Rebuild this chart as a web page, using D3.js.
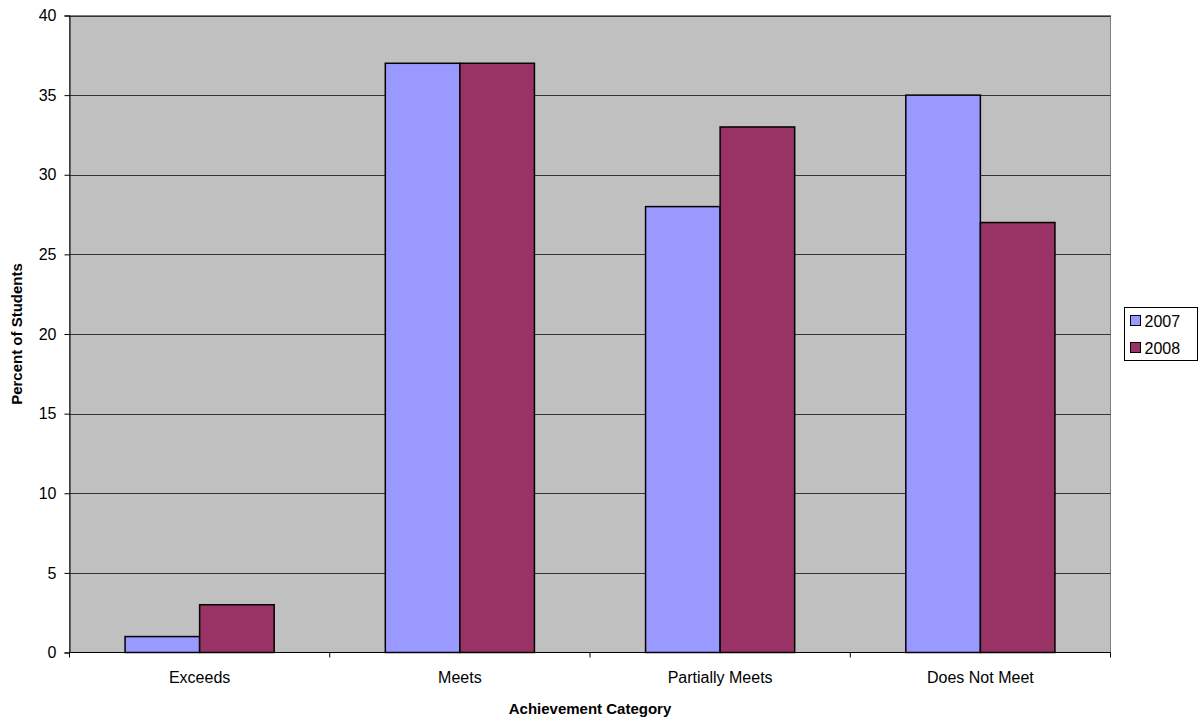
<!DOCTYPE html>
<html><head><meta charset="utf-8">
<script src="https://cdn.jsdelivr.net/npm/d3@7"></script>
<style>body{margin:0;background:#fff;} text{font-family:"Liberation Sans",Arial,sans-serif;}</style>
</head><body>
<svg id="c" width="1202" height="723"></svg>
<script>
const categories = ["Exceeds", "Meets", "Partially Meets", "Does Not Meet"];
const seriesNames = ["2007", "2008"];
const values2007 = [1, 37, 28, 35];
const values2008 = [3, 37, 33, 27];
const yTicks = [0, 5, 10, 15, 20, 25, 30, 35, 40];
const colors = ["#9999FF", "#993366"];

const svg = d3.select("#c");
const L = 69.5, R = 1110.5, T = 15.5, B = 652.5;
const x0 = d3.scaleBand().domain(categories).range([L, R]).padding(0);
const x1 = d3.scaleBand().domain(seriesNames).range([x0.bandwidth()*0.2135, x0.bandwidth()*(1-0.2135)]).padding(0);
const y = d3.scaleLinear().domain([0, 40]).range([B, T]);

svg.append("rect").attr("x", L).attr("y", T).attr("width", R-L).attr("height", B-T)
  .attr("fill", "#C0C0C0").attr("stroke", "#808080").attr("stroke-width", 1);

svg.append("g").selectAll("line").data(yTicks.filter(d => d > 0)).join("line")
  .attr("x1", L).attr("x2", R).attr("y1", d => Math.round(y(d)) + 0.5).attr("y2", d => Math.round(y(d)) + 0.5)
  .attr("stroke", "#333").attr("stroke-width", 1);

const series = [values2007, values2008];
categories.forEach((c, i) => {
  seriesNames.forEach((s, j) => {
    const v = series[j][i];
    svg.append("rect")
      .attr("x", x0(c) + x1(s)).attr("y", y(v))
      .attr("width", x1.bandwidth()).attr("height", B - y(v))
      .attr("fill", colors[j]).attr("stroke", "#000").attr("stroke-width", 1.5);
  });
});

const yAxis = d3.axisLeft(y).tickValues(yTicks).tickSize(5).tickPadding(8);
const gy = svg.append("g").attr("transform", `translate(${L},0)`).call(yAxis);
gy.selectAll("text").attr("font-size", 16).attr("fill", "#000").style("font-family", "Liberation Sans, Arial, sans-serif");
gy.select(".domain").attr("stroke", "#000");
gy.selectAll(".tick line").attr("stroke", "#000");

const gx = svg.append("g").attr("transform", `translate(0,${B})`);
gx.append("line").attr("x1", L).attr("x2", R).attr("y1", 0).attr("y2", 0).attr("stroke", "#000");
const bounds = categories.map(c => x0(c)).concat([x0(categories[categories.length-1]) + x0.bandwidth()]);
gx.selectAll(".tk").data(bounds).join("line").attr("class", "tk")
  .attr("x1", d => d).attr("x2", d => d).attr("y1", 0).attr("y2", 5).attr("stroke", "#000");
gx.selectAll(".lbl").data(categories).join("text").attr("class", "lbl")
  .attr("x", d => x0(d) + x0.bandwidth()/2).attr("y", 30)
  .attr("text-anchor", "middle").attr("font-size", 16).attr("fill", "#000").text(d => d);

svg.append("text").attr("x", (L+R)/2).attr("y", 714).attr("text-anchor", "middle")
  .attr("font-size", 15).attr("font-weight", "bold").text("Achievement Category");
svg.append("text").attr("transform", `translate(22,${(T+B)/2}) rotate(-90)`).attr("text-anchor", "middle")
  .attr("font-size", 15).attr("font-weight", "bold").text("Percent of Students");

const lg = svg.append("g").attr("transform", "translate(1124.5,307.5)");
lg.append("rect").attr("width", 73).attr("height", 53).attr("fill", "#fff").attr("stroke", "#000");
seriesNames.forEach((s, j) => {
  lg.append("rect").attr("x", 6).attr("y", 8 + j*27).attr("width", 10).attr("height", 10)
    .attr("fill", colors[j]).attr("stroke", "#000");
  lg.append("text").attr("x", 20).attr("y", 19 + j*27).attr("font-size", 16).text(s);
});
</script>
</body></html>
